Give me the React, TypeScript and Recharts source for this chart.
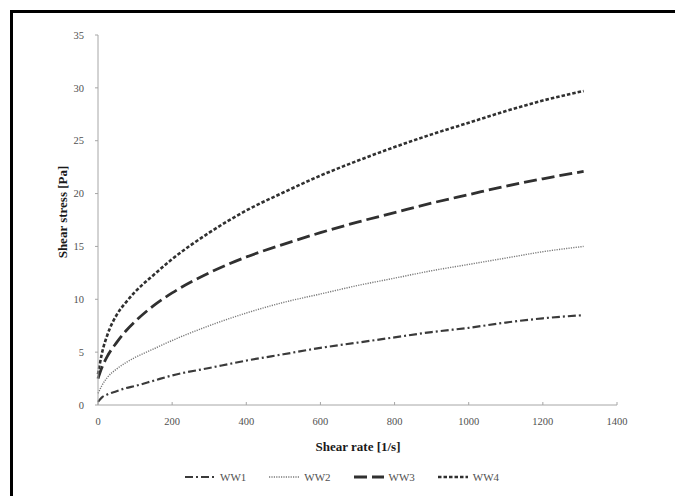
import React from "react";
import { LineChart, Line, XAxis, YAxis, Label } from "recharts";

const shearRate = [0, 10, 25, 50, 75, 100, 150, 200, 300, 400, 500, 600, 700, 800, 900, 1000, 1100, 1200, 1310];
const ww1 = [0.3, 0.7, 1.0, 1.3, 1.6, 1.8, 2.3, 2.8, 3.5, 4.2, 4.8, 5.4, 5.9, 6.4, 6.9, 7.3, 7.8, 8.2, 8.5];
const ww2 = [1.1, 1.8, 2.6, 3.4, 4.0, 4.5, 5.3, 6.1, 7.5, 8.7, 9.7, 10.5, 11.3, 12.0, 12.7, 13.3, 13.9, 14.5, 15.0];
const ww3 = [2.5, 3.5, 4.6, 5.9, 7.0, 7.9, 9.4, 10.6, 12.5, 14.0, 15.2, 16.3, 17.3, 18.2, 19.1, 19.9, 20.7, 21.4, 22.1];
const ww4 = [2.9, 4.8, 6.6, 8.5, 9.7, 10.7, 12.3, 13.8, 16.3, 18.4, 20.1, 21.7, 23.1, 24.4, 25.6, 26.7, 27.8, 28.8, 29.7];

const xTicks = [0, 200, 400, 600, 800, 1000, 1200, 1400];
const yTicks = [0, 5, 10, 15, 20, 25, 30, 35];
const seriesNames = ["WW1", "WW2", "WW3", "WW4"];

const data = shearRate.map((x, i) => ({ x, WW1: ww1[i], WW2: ww2[i], WW3: ww3[i], WW4: ww4[i] }));

const styles: Record<string, { stroke: string; width: number; dash: string }> = {
  WW1: { stroke: "#3a3a3a", width: 2.2, dash: "8 3 2 3" },
  WW2: { stroke: "#7a7a7a", width: 1.4, dash: "1.2 1.2" },
  WW3: { stroke: "#303030", width: 2.8, dash: "13 5" },
  WW4: { stroke: "#303030", width: 2.6, dash: "3.5 2" },
};

const FONT = "'Liberation Serif', 'Times New Roman', serif";

export default function App() {
  return (
    <div style={{ position: "fixed", left: 0, top: 0, width: 675, height: 496, overflow: "hidden", background: "#fff" }}>
      <div
        style={{
          position: "absolute",
          left: 10,
          top: 10,
          width: 720,
          height: 560,
          borderLeft: "3px solid #000",
          borderTop: "3px solid #000",
        }}
      />
      <div style={{ position: "absolute", left: 0, top: 0 }}>
        <LineChart width={675} height={496} data={data} margin={{ top: 35, right: 58, left: 30, bottom: 61 }}>
          <XAxis
            dataKey="x"
            type="number"
            domain={[0, 1400]}
            ticks={xTicks}
            height={30}
            stroke="#a6a6a6"
            tickSize={-3}
            tickMargin={16}
            tick={{ fill: "#505050", fontSize: 10.5, fontFamily: FONT }}
          >
            <Label
              content={() => (
                <text x={358} y={451} textAnchor="middle" fontFamily={FONT} fontWeight="bold" fontSize={13} fill="#1a1a1a">
                  Shear rate [1/s]
                </text>
              )}
            />
          </XAxis>
          <YAxis
            type="number"
            domain={[0, 35]}
            ticks={yTicks}
            width={68}
            stroke="#a6a6a6"
            tickSize={3}
            tickMargin={11}
            tick={{ fill: "#505050", fontSize: 10.5, fontFamily: FONT }}
          >
            <Label
              content={() => (
                <text
                  x={67}
                  y={212}
                  transform="rotate(-90 67 212)"
                  textAnchor="middle"
                  fontFamily={FONT}
                  fontWeight="bold"
                  fontSize={13}
                  fill="#1a1a1a"
                >
                  Shear stress [Pa]
                </text>
              )}
            />
          </YAxis>
          {seriesNames.map((n) => (
            <Line
              key={n}
              dataKey={n}
              type="monotone"
              stroke={styles[n].stroke}
              strokeWidth={styles[n].width}
              strokeDasharray={styles[n].dash}
              dot={false}
              isAnimationActive={false}
            />
          ))}
        </LineChart>
      </div>
      <div
        style={{
          position: "absolute",
          top: 471,
          left: 184,
          display: "flex",
          alignItems: "center",
          fontFamily: FONT,
          fontSize: 11,
          color: "#505050",
        }}
      >
        {seriesNames.map((n) => (
          <div key={n} style={{ display: "flex", alignItems: "center", marginRight: 22 }}>
            <svg width={32} height={8}>
              <line
                x1={1}
                y1={4}
                x2={31}
                y2={4}
                stroke={styles[n].stroke}
                strokeWidth={styles[n].width}
                strokeDasharray={styles[n].dash}
              />
            </svg>
            <span style={{ marginLeft: 4 }}>{n}</span>
          </div>
        ))}
      </div>
    </div>
  );
}
